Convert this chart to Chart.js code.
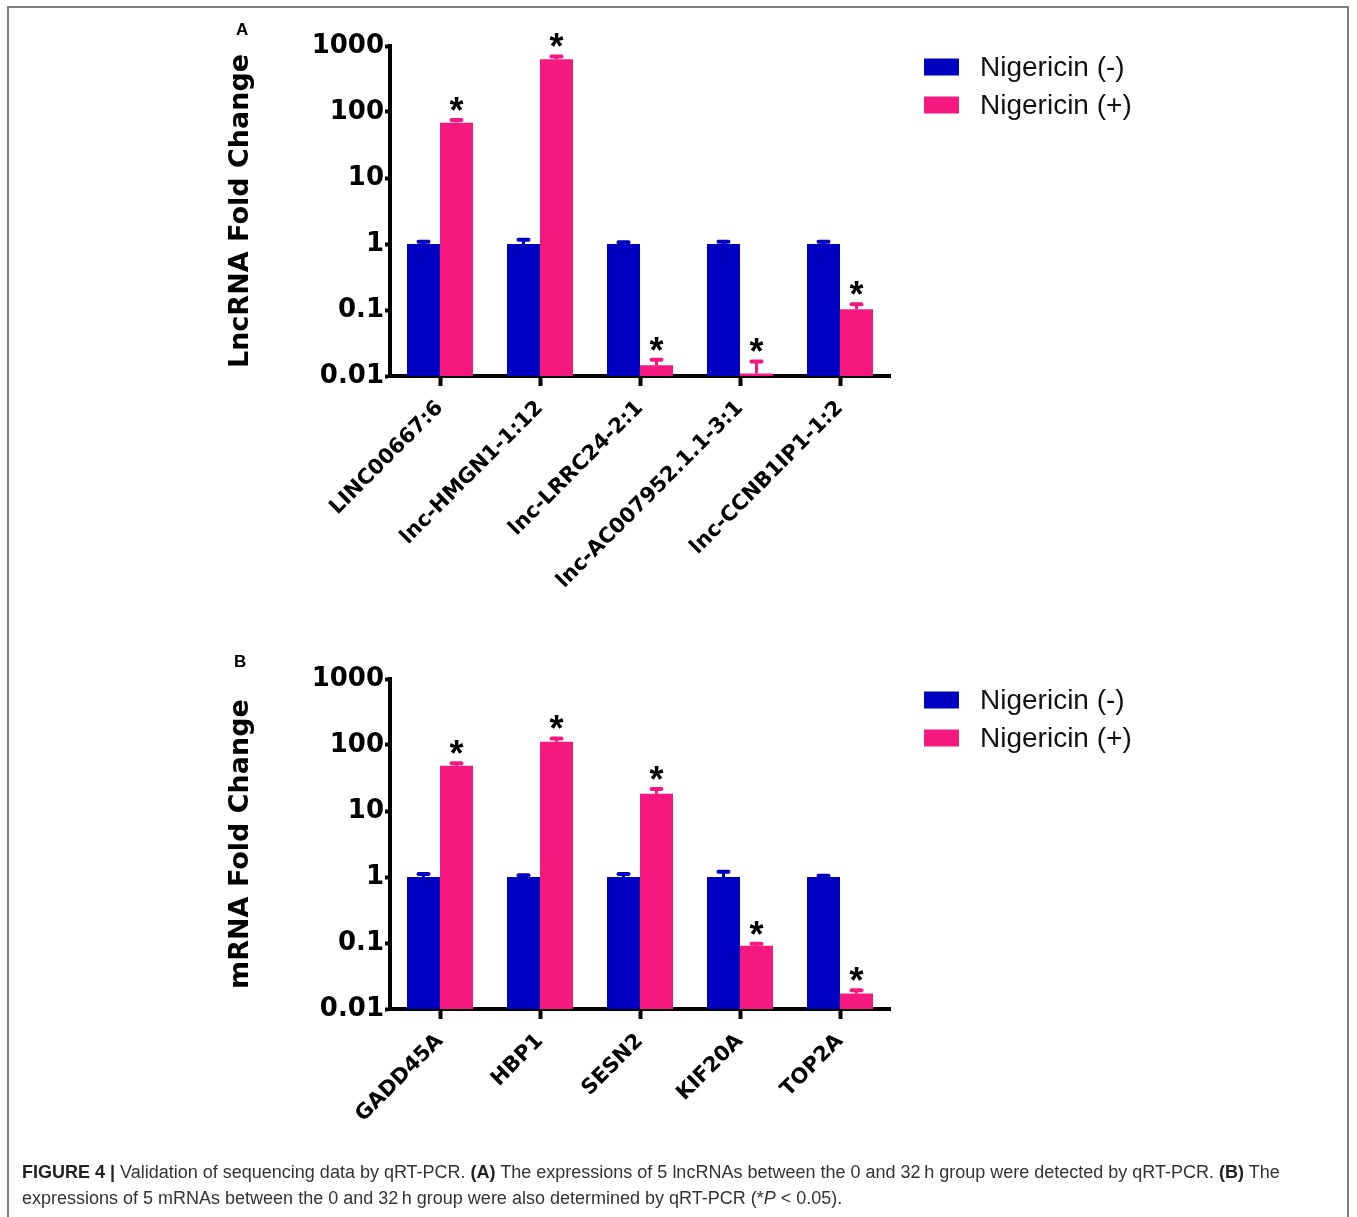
<!DOCTYPE html>
<html>
<head>
<meta charset="utf-8">
<script src="https://cdn.jsdelivr.net/npm/chart.js@4.4.1/dist/chart.umd.min.js"></script>
<style>
  html, body { margin: 0; padding: 0; background: #fff; }
  body { width: 1357px; height: 1217px; position: relative; overflow: hidden;
         font-family: "Liberation Sans", Arial, sans-serif; }
  .frame { position: absolute; left: 7px; top: 6px; width: 1342px; height: 1260px;
           border: 2px solid #7d7d7d; box-sizing: border-box; }
  .panel { position: absolute; left: 0; width: 1357px; height: 620px; }
  #wrapA { top: 0; }
  #wrapB { top: 633px; }
  .tag { position: absolute; font: bold 17px "Liberation Sans", Arial, sans-serif; color: #000; }
  .caption { position: absolute; left: 22px; top: 1159px; font-size: 18px; line-height: 26px;
             color: #333; white-space: nowrap; }
  .caption b { color: #222; }
</style>
</head>
<body>
<div class="frame"></div>
<div class="panel" id="wrapA"><canvas id="chartA" width="1357" height="620"></canvas></div>
<div class="panel" id="wrapB"><canvas id="chartB" width="1357" height="620"></canvas></div>
<div class="tag" style="left:236px;top:20px;">A</div>
<div class="tag" style="left:234px;top:652px;">B</div>
<div class="caption"><b>FIGURE 4 |</b> Validation of sequencing data by qRT-PCR. <b>(A)</b> The expressions of 5 lncRNAs between the 0 and 32&#8201;h group were detected by qRT-PCR. <b>(B)</b> The<br>expressions of 5 mRNAs between the 0 and 32&#8201;h group were also determined by qRT-PCR (*<i>P</i> &lt; 0.05).</div>

<script>
// ---- Panel A: lncRNA fold change ----
const lncLabels = ['LINC00667:6', 'lnc-HMGN1-1:12', 'lnc-LRRC24-2:1', 'lnc-AC007952.1.1-3:1', 'lnc-CCNB1IP1-1:2'];
const lncNeg    = [1, 1, 1, 1, 1];
const lncNegErr = [1.12, 1.2, 1.1, 1.12, 1.12];       // upper end of error bar
const lncPos    = [69, 632, 0.0145, 0.0109, 0.103];
const lncPosErr = [78, 719, 0.0183, 0.0172, 0.127];
const lncSig    = [true, true, true, true, true];

// ---- Panel B: mRNA fold change ----
const mrnaLabels = ['GADD45A', 'HBP1', 'SESN2', 'KIF20A', 'TOP2A'];
const mrnaNeg    = [1, 1, 1, 1, 1];
const mrnaNegErr = [1.15, 1.1, 1.15, 1.24, 1.08];
const mrnaPos    = [48.3, 112, 18.2, 0.091, 0.0172];
const mrnaPosErr = [55, 130, 22.4, 0.101, 0.020];
const mrnaSig    = [true, true, true, true, true];

// ---- shared axis / legend text ----
const seriesNames = ['Nigericin (-)', 'Nigericin (+)'];
const yTickValues = [0.01, 0.1, 1, 10, 100, 1000];
const yTickText   = ['0.01', '0.1', '1', '10', '100', '1000'];

const BLUE = '#0000c0';
const PINK = '#f5187f';

// Upward error bars with caps, plus significance asterisks
const errorBarPlugin = {
  id: 'errorBars',
  afterDatasetsDraw(chart) {
    const ctx = chart.ctx;
    const ys = chart.scales.y;
    chart.data.datasets.forEach((ds, i) => {
      const meta = chart.getDatasetMeta(i);
      meta.data.forEach((bar, j) => {
        const top = ys.getPixelForValue(ds.errHigh[j]);
        ctx.save();
        ctx.strokeStyle = ds.backgroundColor;
        ctx.lineWidth = 3;
        ctx.beginPath();
        ctx.moveTo(bar.x, bar.y);
        ctx.lineTo(bar.x, top);
        ctx.stroke();
        ctx.lineWidth = 4;
        ctx.lineCap = 'round';
        ctx.beginPath();
        ctx.moveTo(bar.x - 5, top + 1);
        ctx.lineTo(bar.x + 5, top + 1);
        ctx.stroke();
        if (ds.significant && ds.significant[j]) {
          ctx.fillStyle = '#000';
          ctx.font = 'bold 36px "Liberation Sans", Arial, sans-serif';
          ctx.textAlign = 'center';
          ctx.textBaseline = 'alphabetic';
          ctx.fillText('*', bar.x, top + 4);
        }
        ctx.restore();
      });
    });
  }
};

// Legend to the right of the plot, aligned with its top
const sideLegendPlugin = {
  id: 'sideLegend',
  afterDraw(chart) {
    const { ctx, chartArea } = chart;
    const x0 = chartArea.right + 34;
    const y0 = chartArea.top + 21;
    ctx.save();
    chart.data.datasets.forEach((ds, i) => {
      const cy = y0 + i * 38;
      ctx.fillStyle = ds.backgroundColor;
      ctx.fillRect(x0, cy - 8.5, 35, 17);
      ctx.fillStyle = '#111';
      ctx.font = '28px "Liberation Sans", Arial, sans-serif';
      ctx.textAlign = 'left';
      ctx.textBaseline = 'middle';
      ctx.fillText(ds.label, x0 + 56, cy + 1);
    });
    ctx.restore();
  }
};

function buildChart(canvasId, labels, neg, negErr, pos, posErr, sig, yTitle) {
  return new Chart(document.getElementById(canvasId), {
    type: 'bar',
    data: {
      labels: labels,
      datasets: [
        { label: seriesNames[0], data: neg, errHigh: negErr, backgroundColor: BLUE, borderWidth: 0 },
        { label: seriesNames[1], data: pos, errHigh: posErr, significant: sig, backgroundColor: PINK, borderWidth: 0 }
      ]
    },
    options: {
      responsive: false,
      animation: false,
      events: [],
      categoryPercentage: 0.66,
      barPercentage: 1.0,
      layout: { padding: { left: 225, top: 46, right: 467, bottom: 14 } },
      plugins: { legend: { display: false }, tooltip: { enabled: false } },
      scales: {
        x: {
          offset: true,
          border: { display: true, color: '#000', width: 4 },
          grid: { display: true, drawOnChartArea: false, drawTicks: true, offset: false,
                  tickLength: 10, tickWidth: 4, tickColor: '#000' },
          ticks: {
            color: '#000', autoSkip: false, minRotation: 45, maxRotation: 45, padding: 10,
            font: { family: '"DejaVu Sans", sans-serif', weight: 'bold', size: 21 }
          },
          afterFit(scale) { scale.height = 230; }
        },
        y: {
          type: 'logarithmic',
          min: 0.01,
          max: 1000,
          border: { display: true, color: '#000', width: 4 },
          grid: { display: true, drawOnChartArea: false, drawTicks: true,
                  tickLength: 5, tickWidth: 4, tickColor: '#000' },
          afterBuildTicks(scale) { scale.ticks = yTickValues.map(v => ({ value: v })); },
          ticks: {
            color: '#000', padding: 1,
            font: { family: '"DejaVu Sans", sans-serif', weight: 'bold', size: 26 },
            callback(value) {
              const k = yTickValues.indexOf(value);
              return k >= 0 ? yTickText[k] : null;
            }
          },
          title: {
            display: true, text: yTitle, color: '#000', padding: { top: 0, bottom: 0 },
            font: { family: '"DejaVu Sans", sans-serif', weight: 'bold', size: 27 }
          },
          afterFit(scale) { scale.width = 165; }
        }
      }
    },
    plugins: [errorBarPlugin, sideLegendPlugin]
  });
}

buildChart('chartA', lncLabels, lncNeg, lncNegErr, lncPos, lncPosErr, lncSig, 'LncRNA Fold Change');
buildChart('chartB', mrnaLabels, mrnaNeg, mrnaNegErr, mrnaPos, mrnaPosErr, mrnaSig, 'mRNA Fold Change');
</script>
</body>
</html>
